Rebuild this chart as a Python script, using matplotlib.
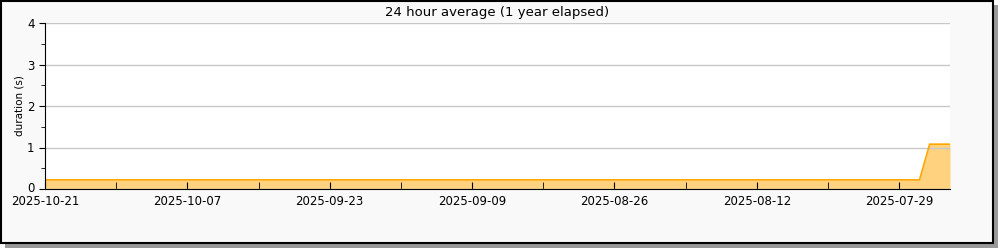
import matplotlib
matplotlib.use("Agg")
import matplotlib.pyplot as plt
import matplotlib.dates as mdates
import matplotlib.transforms as mtransforms
from matplotlib.patches import Rectangle
import datetime as dt

# Data (daily points, newest on the left)
dates = [dt.date(2025, 10, 21), dt.date(2025, 7, 27), dt.date(2025, 7, 26), dt.date(2025, 7, 24)]
values = [0.22, 0.22, 1.08, 1.08]
x_start = dt.date(2025, 10, 21)
x_end = dt.date(2025, 7, 24)
major_ticks = [dt.date(2025, 10, 21), dt.date(2025, 10, 7), dt.date(2025, 9, 23),
               dt.date(2025, 9, 9), dt.date(2025, 8, 26), dt.date(2025, 8, 12),
               dt.date(2025, 7, 29)]
y_ticks = [0, 1, 2, 3, 4]
title = "24 hour average (1 year elapsed)"
ylabel = "duration (s)"

W, H = 1000, 250
fig = plt.figure(figsize=(W / 100, H / 100), dpi=100)
fig.patch.set_facecolor("white")

# shadow + frame
fig.patches.append(Rectangle((5 / W, 2 / H), 993 / W, 243 / H, transform=fig.transFigure,
                             facecolor="#999999", edgecolor="none", zorder=0))
fig.patches.append(Rectangle((1 / W, 7 / H), 992 / W, 242 / H, transform=fig.transFigure,
                             facecolor="#f9f9f9", edgecolor="black", linewidth=1.5, zorder=1))

ax = fig.add_axes([45 / W, 1 - 189 / H, 905 / W, 166 / H])
ax.set_facecolor("white")
ax.set_zorder(2)

xd = mdates.date2num(dates)
ax.fill_between(xd, values, 0, color="#ffd280", linewidth=0, zorder=1)
ax.plot(xd, values, color="#ffa500", linewidth=1.2, zorder=3)

ax.set_xlim(mdates.date2num(x_start), mdates.date2num(x_end))
ax.set_ylim(0, 4)
ax.set_yticks(y_ticks)
ax.set_yticks([0.5, 1.5, 2.5, 3.5], minor=True)
ax.set_xticks(mdates.date2num(major_ticks))
ax.set_xticklabels([d.strftime("%Y-%m-%d") for d in major_ticks])
minor = [mdates.date2num(d) - 7 for d in major_ticks]
ax.set_xticks([m for m in minor if mdates.date2num(x_end) <= m <= mdates.date2num(x_start)], minor=True)

ax.grid(axis="y", color="#c8c8c8", linewidth=1, zorder=2)
ax.set_axisbelow(False)
for s in ["top", "right"]:
    ax.spines[s].set_visible(False)
ax.spines["left"].set_zorder(4)
ax.spines["bottom"].set_zorder(4)

ax.tick_params(axis="x", direction="in", length=5, labelsize=8.5, pad=4)
ax.tick_params(axis="x", which="minor", direction="in", length=5)
ax.tick_params(axis="y", direction="out", length=4, labelsize=8.5)
ax.tick_params(axis="y", which="minor", direction="out", length=3)
lbl0 = ax.get_yticklabels()[0]
lbl0.set_transform(lbl0.get_transform() + mtransforms.ScaledTranslation(0, 2 / 100, fig.dpi_scale_trans))

ax.set_title(title, fontsize=9.5, pad=5)
ax.set_ylabel(ylabel, fontsize=7.5, labelpad=12)
ax.yaxis.set_label_coords(-20 / 905, 0.5)

fig.savefig("out.png", dpi=100, facecolor=fig.get_facecolor())
